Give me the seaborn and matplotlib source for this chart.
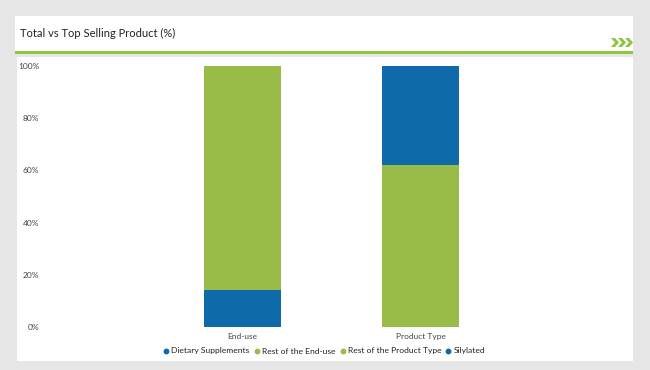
import matplotlib
matplotlib.use("Agg")
import matplotlib.pyplot as plt
import seaborn as sns
import pandas as pd
from matplotlib.patches import Rectangle, Polygon
from matplotlib.lines import Line2D

# ---- data ----
categories = ["End-use", "Product Type"]
bottom_labels = ["Dietary Supplements", "Rest of the Product Type"]
bottom_values = [14, 62]
top_labels = ["Rest of the End-use", "Silylated"]
top_values = [86, 38]
legend_labels = ["Dietary Supplements", "Rest of the End-use", "Rest of the Product Type", "Silylated"]
yticks = [0, 20, 40, 60, 80, 100]
ytick_labels = ["0%", "20%", "40%", "60%", "80%", "100%"]
title = "Total vs Top Selling Product (%)"

BLUE = "#0e6aa8"
GREEN = "#98bc47"
bottom_colors = [BLUE, GREEN]
top_colors = [GREEN, BLUE]
legend_colors = [BLUE, GREEN, GREEN, BLUE]

sns.set_theme(style="white")
plt.rcParams["font.family"] = ["Lato", "DejaVu Sans"]

W, H = 650, 370
fig = plt.figure(figsize=(W / 100, H / 100), dpi=100)
fig.patch.set_facecolor("#e6e6e6")

def px_rect(x0, y0, x1, y1, color):
    fig.patches.append(Rectangle((x0 / W, 1 - y1 / H), (x1 - x0) / W, (y1 - y0) / H,
                                 transform=fig.transFigure, facecolor=color, edgecolor="none", zorder=-5))

# header panel, green rule, chart panel
px_rect(15, 16, 633, 51, "white")
px_rect(15, 51, 633, 54, "#8dc63f")
px_rect(17, 57, 633, 361, "white")

fig.text(20 / W, 1 - 33 / H, title, fontsize=8.0, color="#222222", va="center", ha="left")

# chevrons
for i in range(3):
    x0 = 611 + i * 7
    pts = [(x0, 38), (x0 + 4, 38), (x0 + 8, 42.5), (x0 + 4, 47), (x0, 47), (x0 + 4, 42.5)]
    fig.patches.append(Polygon([(x / W, 1 - y / H) for x, y in pts], closed=True,
                               transform=fig.transFigure, facecolor="#8dc63f", edgecolor="none", zorder=-4))

# axes
left_px, right_px, top_px, bot_px = 45, 633, 66, 327
ax = fig.add_axes([left_px / W, 1 - bot_px / H, (right_px - left_px) / W, (bot_px - top_px) / H])
ax.set_facecolor("none")
ax.set_zorder(2)

totals = [b + t for b, t in zip(bottom_values, top_values)]
df_top = pd.DataFrame({"cat": categories, "val": totals})
df_bot = pd.DataFrame({"cat": categories, "val": bottom_values})

sns.barplot(data=df_top, x="cat", y="val", hue="cat", palette=dict(zip(categories, top_colors)),
            width=0.43, dodge=False, legend=False, ax=ax, saturation=1, linewidth=0)
sns.barplot(data=df_bot, x="cat", y="val", hue="cat", palette=dict(zip(categories, bottom_colors)),
            width=0.43, dodge=False, legend=False, ax=ax, saturation=1, linewidth=0)

c0, scale = 242.5, 178.0
ax.set_xlim((left_px - c0) / scale, (right_px - c0) / scale)
ax.set_ylim(0, 100)
ax.set_yticks(yticks)
ax.set_yticklabels(ytick_labels)
ax.set_xlabel("")
ax.set_ylabel("")
ax.tick_params(axis="both", length=0, labelsize=6, colors="#444444")
ax.tick_params(axis="y", pad=4)
ax.tick_params(axis="x", pad=4)
for s in ax.spines.values():
    s.set_visible(False)

handles = [Line2D([0], [0], marker="o", linestyle="", markersize=3.2, markerfacecolor=c, markeredgecolor=c)
           for c in legend_colors]
leg = fig.legend(handles, legend_labels, loc="center", bbox_to_anchor=(324 / W, 1 - 351 / H), ncol=4,
                 frameon=False, fontsize=6.1, handletextpad=0.2, columnspacing=0.45, handlelength=0.8,
                 labelcolor="#222222")

fig.savefig("out.png", dpi=100, facecolor=fig.get_facecolor())
